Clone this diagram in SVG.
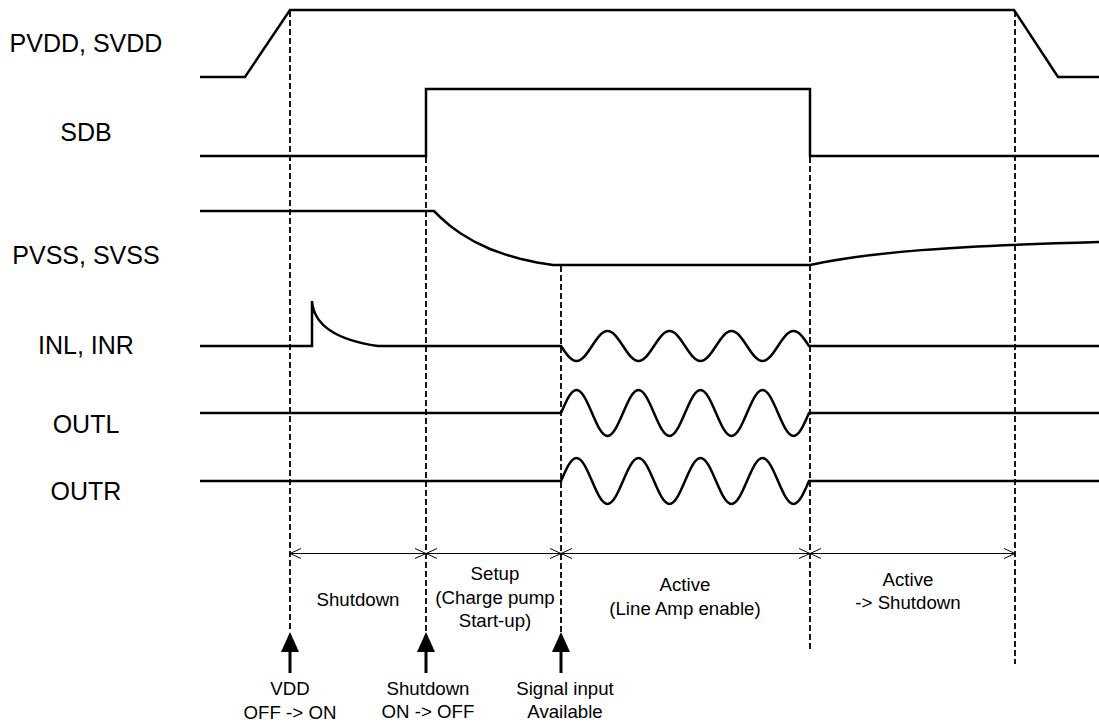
<svg xmlns="http://www.w3.org/2000/svg" width="1099" height="725" viewBox="0 0 1099 725">
<style>
.sig{fill:none;stroke:#000;stroke-width:2.5;stroke-linejoin:miter}
.dash{fill:none;stroke:#000;stroke-width:1.8;stroke-dasharray:6,3}
.dim{fill:none;stroke:#000;stroke-width:1}
.lbl{font-family:"Liberation Sans",Arial,sans-serif;font-size:25px;fill:#000;text-anchor:middle}
.txt{font-family:"Liberation Sans",Arial,sans-serif;font-size:18.67px;fill:#000;text-anchor:middle}
</style>
<defs>
<marker id="open" viewBox="-12 -6 13 12" refX="0" refY="0" markerWidth="13" markerHeight="12" markerUnits="userSpaceOnUse" orient="auto-start-reverse">
<path d="M-11,-5 L0,0 L-11,5" fill="none" stroke="#000" stroke-width="1"/>
</marker>
<g id="uparrow">
<path d="M0,0 L9,20 L-9,20 Z" fill="#000"/>
<rect x="-1.5" y="19" width="3" height="22" fill="#000"/>
</g>
</defs>
<rect width="1099" height="725" fill="#fff"/>

<g id="labels">
<text class="lbl" x="86" y="52">PVDD, SVDD</text>
<text class="lbl" x="86" y="141">SDB</text>
<text class="lbl" x="86" y="264">PVSS, SVSS</text>
<text class="lbl" x="86" y="354">INL, INR</text>
<text class="lbl" x="86" y="433">OUTL</text>
<text class="lbl" x="86" y="500">OUTR</text>
</g>

<g id="pvdd">
<path class="sig" d="M200,77 L245,77 L290,10 L1014,10 L1058,77 L1099,77"/>
</g>
<g id="sdb">
<path class="sig" d="M200,156 L426,156 L426,89 L810,89 L810,156 L1099,156"/>
</g>
<g id="pvss">
<path class="sig" d="M200,211 L434,211 L440,217 L450,225.7 L460,233 L475,242 L490,249 L505,254.4 L520,258.7 L537,262.4 L553,265 L810,265 C870,252 950,246 1099,242"/>
</g>
<g id="inl">
<path class="sig" d="M200,346 L312,346 L312,301 C313,315 322,338 378,346 L561,346 c5.055,7.68 9.891,15 15.5,15 s10.445,-7.32 15.5,-15 s9.891,-15 15.5,-15 s10.445,7.32 15.5,15 s9.891,15 15.5,15 s10.445,-7.32 15.5,-15 s9.891,-15 15.5,-15 s10.445,7.32 15.5,15 s9.891,15 15.5,15 s10.445,-7.32 15.5,-15 s9.891,-15 15.5,-15 s10.445,7.32 15.5,15 s9.891,15 15.5,15 s10.445,-7.32 15.5,-15 s9.891,-15 15.5,-15 s10.445,7.32 15.5,15 L1099,346"/>
</g>
<g id="outl">
<path class="sig" d="M200,413 L561,413 c5.055,-11.78 9.891,-23 15.5,-23 s10.445,11.22 15.5,23 s9.891,23 15.5,23 s10.445,-11.22 15.5,-23 s9.891,-23 15.5,-23 s10.445,11.22 15.5,23 s9.891,23 15.5,23 s10.445,-11.22 15.5,-23 s9.891,-23 15.5,-23 s10.445,11.22 15.5,23 s9.891,23 15.5,23 s10.445,-11.22 15.5,-23 s9.891,-23 15.5,-23 s10.445,11.22 15.5,23 s9.891,23 15.5,23 s10.445,-11.22 15.5,-23 L1099,413"/>
</g>
<g id="outr">
<path class="sig" d="M200,481 L561,481 c5.055,-11.78 9.891,-23 15.5,-23 s10.445,11.22 15.5,23 s9.891,23 15.5,23 s10.445,-11.22 15.5,-23 s9.891,-23 15.5,-23 s10.445,11.22 15.5,23 s9.891,23 15.5,23 s10.445,-11.22 15.5,-23 s9.891,-23 15.5,-23 s10.445,11.22 15.5,23 s9.891,23 15.5,23 s10.445,-11.22 15.5,-23 s9.891,-23 15.5,-23 s10.445,11.22 15.5,23 s9.891,23 15.5,23 s10.445,-11.22 15.5,-23 L1099,481"/>
</g>

<g id="connectors">
<line class="dash" x1="290" y1="11" x2="290" y2="632"/>
<line class="dash" x1="426" y1="157" x2="426" y2="632"/>
<line class="dash" x1="561" y1="266" x2="561" y2="632"/>
<line class="dash" x1="810" y1="157" x2="810" y2="650"/>
<line class="dash" x1="1015" y1="11" x2="1015" y2="664"/>
<line class="dim" x1="290" y1="553.5" x2="426" y2="553.5" marker-start="url(#open)" marker-end="url(#open)"/>
<line class="dim" x1="426" y1="553.5" x2="561" y2="553.5" marker-start="url(#open)" marker-end="url(#open)"/>
<line class="dim" x1="561" y1="553.5" x2="810" y2="553.5" marker-start="url(#open)" marker-end="url(#open)"/>
<line class="dim" x1="810" y1="553.5" x2="1015" y2="553.5" marker-start="url(#open)" marker-end="url(#open)"/>
<use href="#uparrow" x="290" y="632"/>
<use href="#uparrow" x="426" y="632"/>
<use href="#uparrow" x="561" y="632"/>
</g>

<g id="phases">
<text class="txt" x="358" y="606">Shutdown</text>
<text class="txt" x="495" y="580">Setup</text>
<text class="txt" x="495" y="604">(Charge pump</text>
<text class="txt" x="495" y="627">Start-up)</text>
<text class="txt" x="685" y="591">Active</text>
<text class="txt" x="685" y="615">(Line Amp enable)</text>
<text class="txt" x="908" y="586">Active</text>
<text class="txt" x="908" y="609">-&gt; Shutdown</text>
</g>
<g id="events">
<text class="txt" x="290" y="695">VDD</text>
<text class="txt" x="290" y="719">OFF -&gt; ON</text>
<text class="txt" x="428" y="695">Shutdown</text>
<text class="txt" x="428" y="718">ON -&gt; OFF</text>
<text class="txt" x="565" y="695">Signal input</text>
<text class="txt" x="565" y="718">Available</text>
</g>
</svg>
